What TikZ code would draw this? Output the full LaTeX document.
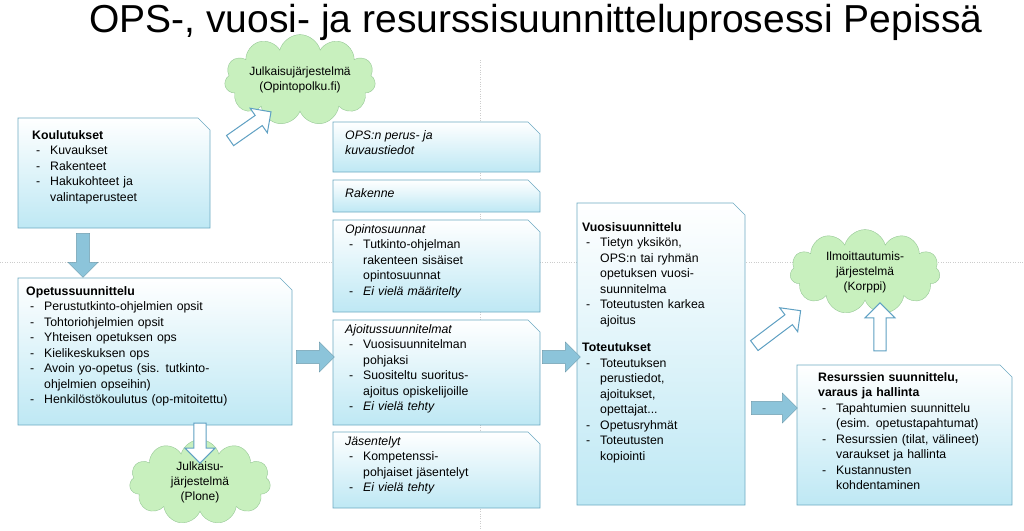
\documentclass[tikz,border=0pt]{standalone}
\usepackage{fontspec}
\setmainfont{Liberation Sans}
\usetikzlibrary{shapes.arrows,shapes.symbols}
\definecolor{bx}{RGB}{190,232,244}
\definecolor{bd}{RGB}{110,170,195}
\definecolor{ar}{RGB}{140,196,218}
\definecolor{ao}{RGB}{95,160,195}
\definecolor{cl}{RGB}{200,240,190}
\definecolor{cld}{RGB}{150,200,150}
\newcommand{\itm}[1]{\par\hangindent=18pt\hangafter=1\noindent\makebox[18pt][l]{\hspace{4pt}-}#1}
\newcommand{\nl}{\newline}
\newcommand{\snipbox}[5]{%
 \node[inner sep=0, minimum width=#4-#2, minimum height=#5-#3, anchor=north west] (#1) at (#2,#3) {};
 \shade[top color=white, bottom color=bx, draw=bd, line width=0.6pt]
   (#2,#3) -- (#4-12,#3) -- (#4,#3+12) -- (#4,#5) -- (#2,#5) -- cycle;}
\tikzset{txt/.style={anchor=north west, align=left, inner sep=0, font=\fontsize{12.3}{15.5}\selectfont},
 barrow/.style={single arrow, fill=ar, draw=ar!80!black, line width=0.4pt, minimum height=#1, minimum width=30pt, single arrow head extend=4pt, inner sep=3pt},
 oarrow/.style={single arrow, fill=white, draw=ao, line width=1pt, minimum height=#1, minimum width=30pt, single arrow head extend=5pt, inner sep=3pt},
 cloudn/.style={cloud, cloud puffs=11, aspect=2.3, draw=cld, fill=cl, align=center, inner sep=0pt, font=\fontsize{12}{15}\selectfont}}
\begin{document}
\begin{tikzpicture}[x=1pt,y=-1pt]
\useasboundingbox[fill=white] (0,0) rectangle (1024,530);
\draw[gray!40, dotted] (480,60) -- (480,530) (0,262) -- (1024,262);
\node[font=\fontsize{39}{44}\selectfont] (title) at (536,22) {OPS-, vuosi- ja resurssisuunnitteluprosessi Pepissä};
% boxes
\snipbox{k}{18}{118}{210}{228}
\node[txt, text width=170pt] (kt) at (32,130) {\textbf{Koulutukset}\itm{Kuvaukset}\itm{Rakenteet}\itm{Hakukohteet ja\nl valintaperusteet}\par};
\snipbox{o}{18}{278}{292}{425}
\node[txt, text width=270pt] (ot) at (26,286) {\textbf{Opetussuunnittelu}\itm{Perustutkinto-ohjelmien opsit}\itm{Tohtoriohjelmien opsit}\itm{Yhteisen opetuksen ops}\itm{Kielikeskuksen ops}\itm{Avoin yo-opetus (sis. tutkinto-\nl ohjelmien opseihin)}\itm{Henkilöstökoulutus (op-mitoitettu)}\par};
\snipbox{m1}{333}{122}{540}{172}
\node[txt] (m1t) at (345,130) {\textit{OPS:n perus- ja}\\\textit{kuvaustiedot}};
\snipbox{m2}{333}{180}{540}{212}
\node[txt] (m2t) at (345,188) {\textit{Rakenne}};
\snipbox{m3}{333}{220}{540}{312}
\node[txt, text width=190pt] (m3t) at (345,224) {\textit{Opintosuunnat}\itm{Tutkinto-ohjelman\nl rakenteen sisäiset\nl opintosuunnat}\itm{\textit{Ei vielä määritelty}}\par};
\snipbox{m4}{333}{320}{540}{425}
\node[txt, text width=190pt] (m4t) at (345,324) {\textit{Ajoitussuunnitelmat}\itm{Vuosisuunnitelman\nl pohjaksi}\itm{Suositeltu suoritus-\nl ajoitus opiskelijoille}\itm{\textit{Ei vielä tehty}}\par};
\snipbox{m5}{333}{432}{540}{508}
\node[txt, text width=190pt] (m5t) at (345,436) {\textit{Jäsentelyt}\itm{Kompetenssi-\nl pohjaiset jäsentelyt}\itm{\textit{Ei vielä tehty}}\par};
\snipbox{v}{577}{203}{745}{505}
\node[txt, text width=160pt] (vt) at (582,222) {\textbf{Vuosisuunnittelu}\itm{Tietyn yksikön,\nl OPS:n tai ryhmän\nl opetuksen vuosi-\nl suunnitelma}\itm{Toteutusten karkea\nl ajoitus}\par\vspace{12pt}\noindent\textbf{Toteutukset}\itm{Toteutuksen\nl perustiedot,\nl ajoitukset,\nl opettajat...}\itm{Opetusryhmät}\itm{Toteutusten\nl kopiointi}\par};
\snipbox{r}{797}{365}{1012}{505}
\node[txt, text width=210pt] (rt) at (818,372) {\textbf{Resurssien suunnittelu,}\\\textbf{varaus ja hallinta}\itm{Tapahtumien suunnittelu\nl (esim. opetustapahtumat)}\itm{Resurssien (tilat, välineet)\nl varaukset ja hallinta}\itm{Kustannusten\nl kohdentaminen}\par};
% clouds
\node[cloudn, minimum width=145pt, minimum height=55pt] (c1) at (300,80) {Julkaisujärjestelmä\\(Opintopolku.fi)};
\node[cloudn, minimum width=150pt, minimum height=72pt] (c2) at (865,272) {Ilmoittautumis-\\järjestelmä\\(Korppi)};
\node[cloudn, minimum width=140pt, minimum height=66pt] (c3) at (200,482) {Julkaisu-\\järjestelmä\\(Plone)};
% arrows
\node[barrow=44pt, rotate=-90] (a1) at (83,252) {};
\node[barrow=38pt] (a2) at (312,357) {};
\node[barrow=38pt] (a3) at (558,357) {};
\node[barrow=46pt] (a4) at (771,408) {};
\node[oarrow=50pt, rotate=35] (a5) at (248,128) {};
\node[oarrow=40pt, rotate=-90] (a6) at (200,440) {};
\node[oarrow=58pt, rotate=37] (a7) at (775,330) {};
\node[oarrow=48pt, rotate=90] (a8) at (880,330) {};
\end{tikzpicture}
\end{document}
